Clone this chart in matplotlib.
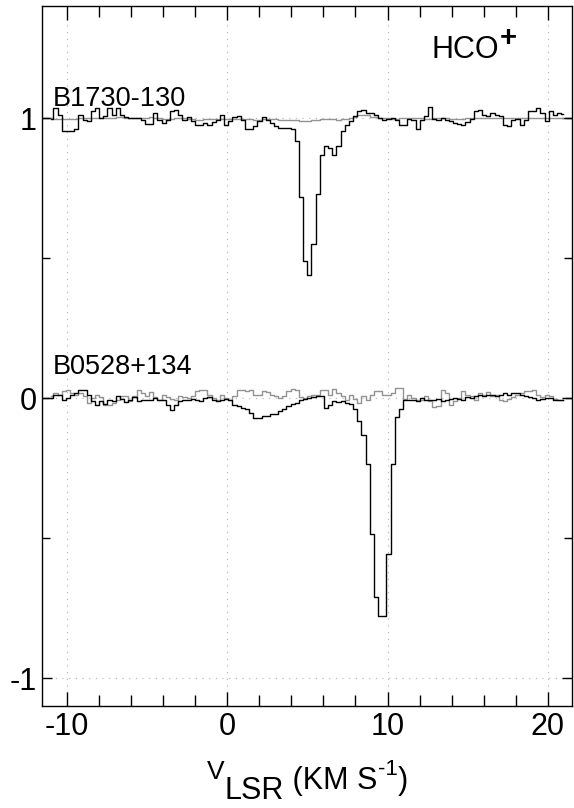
import matplotlib
matplotlib.use("Agg")
import matplotlib.pyplot as plt
from matplotlib.transforms import IdentityTransform
import numpy as np

# channel grid (km/s)
v_start = -11.0
dv = 0.26

# offsets of the two spectra
offset_top = 1.0
offset_bot = 0.0

# B1730-130, deviation from continuum (black = on-source, gray = reference)
top_black = [
    -0.002, 0.037, 0.013, -0.044, -0.044, -0.044, -0.038, 0.013, -0.005, -0.011,
    0.025, 0.037, 0.001, 0.007, 0.037, 0.013, 0.037, 0.010, 0.005, 0.002,
    0.000, 0.000, -0.005, -0.019, -0.019, 0.019, -0.005, -0.017, -0.005, 0.025,
    0.031, 0.010, -0.005, 0.005, -0.011, -0.026, -0.023, -0.017, -0.023, -0.014,
    -0.005, 0.013, -0.026, -0.011, 0.005, 0.007, -0.005, -0.038, -0.040, -0.029,
    -0.011, 0.005, -0.005, -0.017, -0.029, -0.036, -0.036, -0.036, -0.040, -0.080,
    -0.280, -0.510, -0.560, -0.450, -0.270, -0.130, -0.100, -0.105, -0.130, -0.100,
    -0.045, -0.023, -0.011, 0.007, 0.025, 0.029, 0.019, 0.019, 0.013, 0.000,
    -0.005, -0.002, 0.001, -0.005, -0.023, -0.023, -0.002, -0.005, -0.040, -0.005,
    0.007, 0.040, -0.002, -0.008, 0.001, -0.007, -0.011, -0.017, -0.019, -0.023,
    -0.014, -0.002, 0.025, 0.031, 0.013, 0.007, 0.019, 0.013, 0.007, -0.023,
    -0.029, -0.005, -0.002, -0.023, -0.005, 0.025, 0.025, 0.037, 0.019, -0.011,
    0.025, 0.013, 0.017, 0.015,
]
top_gray = [
    0.000, -0.002, -0.003, -0.004, -0.004, -0.003, -0.002, -0.001, 0.000, 0.001,
    0.002, 0.001, 0.000, -0.001, 0.000, 0.002, 0.003, 0.003, 0.002, 0.001,
    0.000, 0.000, 0.001, 0.002, 0.003, 0.002, 0.000, -0.002, -0.003, -0.002,
    0.000, 0.001, 0.000, -0.002, -0.004, -0.005, -0.005, -0.004, -0.003, -0.002,
    -0.002, -0.003, -0.004, -0.004, -0.003, -0.002, -0.002, -0.003, -0.004, -0.005,
    -0.005, -0.004, -0.003, -0.003, -0.004, -0.005, -0.006, -0.006, -0.007, -0.008,
    -0.009, -0.010, -0.010, -0.008, -0.006, -0.004, -0.003, -0.003, -0.004, -0.005,
    -0.004, -0.002, 0.002, 0.006, 0.010, 0.012, 0.010, 0.006, 0.003, 0.001,
    0.000, -0.001, -0.002, -0.002, -0.001, 0.000, 0.001, 0.001, 0.000, -0.001,
    -0.002, -0.002, -0.001, 0.000, 0.001, 0.000, -0.002, -0.003, -0.004, -0.003,
    -0.001, 0.001, 0.002, 0.002, 0.001, 0.000, -0.001, -0.001, 0.000, 0.001,
    0.001, 0.000, -0.001, -0.001, 0.000, 0.001, 0.002, 0.002, 0.001, 0.000,
    0.000, 0.001, 0.001, 0.000,
]

# B0528+134
bot_black = [
    0.001, 0.010, 0.013, -0.007, 0.001, 0.013, 0.019, 0.029, 0.031, 0.013,
    -0.011, -0.023, -0.011, -0.019, -0.007, -0.011, 0.007, -0.002, -0.014, -0.005,
    0.005, -0.011, -0.005, -0.007, -0.005, 0.001, -0.007, -0.007, -0.023, -0.043,
    -0.023, -0.011, -0.007, -0.005, -0.002, -0.005, -0.011, 0.001, 0.005, -0.005,
    -0.011, -0.005, -0.002, -0.005, -0.023, -0.029, -0.035, -0.040, -0.052, -0.070,
    -0.070, -0.064, -0.062, -0.058, -0.055, -0.046, -0.038, -0.029, -0.019, -0.017,
    -0.007, -0.002, 0.001, 0.005, 0.007, 0.007, -0.035, -0.023, -0.011, -0.014,
    -0.011, -0.017, -0.020, -0.040, -0.082, -0.130, -0.236, -0.486, -0.711, -0.779,
    -0.779, -0.557, -0.236, -0.068, -0.040, -0.007, -0.007, -0.005, -0.011, 0.002,
    -0.005, -0.007, -0.005, -0.002, -0.011, -0.005, -0.002, 0.001, -0.002, -0.007,
    0.005, 0.001, 0.007, 0.013, 0.007, 0.010, 0.013, 0.007, 0.013, 0.017,
    0.013, 0.019, 0.019, 0.013, 0.007, 0.005, 0.001, -0.005, -0.002, 0.002,
    0.000, -0.005, -0.008, -0.008,
]
bot_gray = [
    0.007, 0.019, 0.013, 0.025, 0.029, 0.019, 0.013, 0.017, 0.007, -0.017,
    0.001, 0.010, 0.005, -0.023, -0.023, -0.017, -0.005, 0.007, 0.007, -0.011,
    0.007, 0.031, 0.019, 0.007, 0.021, 0.005, -0.005, 0.010, 0.005, -0.002,
    -0.007, 0.007, 0.005, 0.001, 0.007, 0.025, 0.031, 0.031, 0.010, 0.001,
    -0.005, 0.013, 0.001, -0.005, 0.007, 0.031, 0.031, 0.025, 0.029, 0.013,
    0.013, 0.025, 0.021, 0.010, 0.007, 0.001, 0.007, 0.025, 0.033, 0.031,
    0.005, 0.001, 0.007, 0.013, 0.010, 0.031, 0.031, 0.013, 0.033, 0.019,
    0.007, -0.005, 0.010, -0.002, -0.017, 0.007, -0.007, 0.013, 0.025, 0.025,
    0.013, 0.013, 0.019, 0.037, 0.037, -0.002, 0.013, 0.001, -0.005, -0.007,
    0.007, -0.011, -0.031, -0.029, 0.029, 0.019, -0.023, -0.011, 0.001, 0.025,
    0.013, 0.007, -0.005, 0.019, 0.010, 0.021, 0.007, 0.013, -0.005, -0.011,
    -0.002, 0.005, 0.013, 0.019, 0.025, 0.025, 0.031, 0.013, 0.005, 0.013,
    0.007, -0.002, -0.005, -0.007,
]

source_names = ["B1730-130", "B0528+134"]


def place_row(fig, pieces, x, y, align="left"):
    # lay text pieces side by side in pixel coords: (string, size, dy, weight)
    r = fig.canvas.get_renderer()
    texts = []
    for s, size, dy, weight in pieces:
        t = fig.text(0, 0, s, fontsize=size, fontweight=weight,
                     transform=IdentityTransform(), ha="left", va="baseline")
        texts.append((t, dy))
    widths = [t.get_window_extent(r).width for t, _ in texts]
    if align == "center":
        x = x - sum(widths) / 2
    for (t, dy), w in zip(texts, widths):
        t.set_position((x, y + dy))
        x += w


def main():
    plt.rcParams["font.family"] = ["Liberation Sans", "DejaVu Sans"]

    v = v_start + dv * np.arange(len(top_black))
    xlim = (-11.55, 21.55)
    ylim = (-1.10, 1.40)

    fig = plt.figure(figsize=(5.74, 8.08), dpi=100)
    ax = fig.add_axes([0.074, 0.126, 0.9233, 0.8663])

    # dotted grid at the major ticks
    for xg in [-10, 0, 10, 20]:
        ax.axvline(xg, color="#b0b0b0", lw=0.8, ls=(0, (1, 5)), zorder=0)
    for yg in [-1, 0, 1]:
        ax.axhline(yg, color="#b0b0b0", lw=0.8, ls=(0, (1, 5)), zorder=0)

    for off, blk, gry in [(offset_top, top_black, top_gray),
                          (offset_bot, bot_black, bot_gray)]:
        blk = off + np.array(blk)
        gry = off + np.array(gry)
        ax.step(v, gry, where="mid", color="#939393", lw=1.0, zorder=2)
        ax.step(v, blk, where="mid", color="black", lw=1.0, zorder=3)
        # continuum level out to the frame
        ax.hlines(off, xlim[0], v[0] - dv / 2, color="black", lw=1.0)
        ax.hlines(off, v[-1] + dv / 2, xlim[1], color="black", lw=1.0)

    ax.text(-10.9, 1.045, source_names[0], fontsize=19.5, ha="left", va="baseline")
    ax.text(-10.9, 0.085, source_names[1], fontsize=19.5, ha="left", va="baseline")

    ax.set_xlim(*xlim)
    ax.set_ylim(*ylim)
    ax.set_xticks([-10, 0, 10, 20])
    ax.set_xticks(np.arange(-10, 22, 2), minor=True)
    ax.set_yticks([-1, 0, 1])
    ax.set_yticks([-0.5, 0.5], minor=True)
    ax.set_yticklabels(["-1", "0", "1"])
    ax.set_xticklabels(["-10", "0", "10", "20"])

    ax.tick_params(axis="x", which="major", direction="in", top=True, bottom=True,
                   length=10, width=1, labelsize=22, pad=4)
    ax.tick_params(axis="x", which="minor", direction="in", top=True, bottom=True,
                   length=8, width=1)
    ax.tick_params(axis="y", which="major", direction="in", left=True, right=True,
                   length=7.5, width=1, labelsize=22, pad=4)
    ax.tick_params(axis="y", which="minor", direction="in", left=True, right=True,
                   length=6, width=1)
    for sp in ax.spines.values():
        sp.set_linewidth(1.0)

    # molecule name, top right
    place_row(fig, [("HCO", 22, 0, "normal"), ("+", 21, 12, "bold")],
              432, 808 - 58)

    # axis title: V_LSR (KM S^-1)
    place_row(fig, [("V", 19, 10, "normal"), ("LSR", 22, -10, "normal"),
                    (" (KM S", 22, 0, "normal"), ("-1", 16, 14, "normal"),
                    (")", 22, 0, "normal")],
              307.5, 808 - 789, align="center")

    fig.savefig("out.png", dpi=100)


if __name__ == "__main__":
    main()
